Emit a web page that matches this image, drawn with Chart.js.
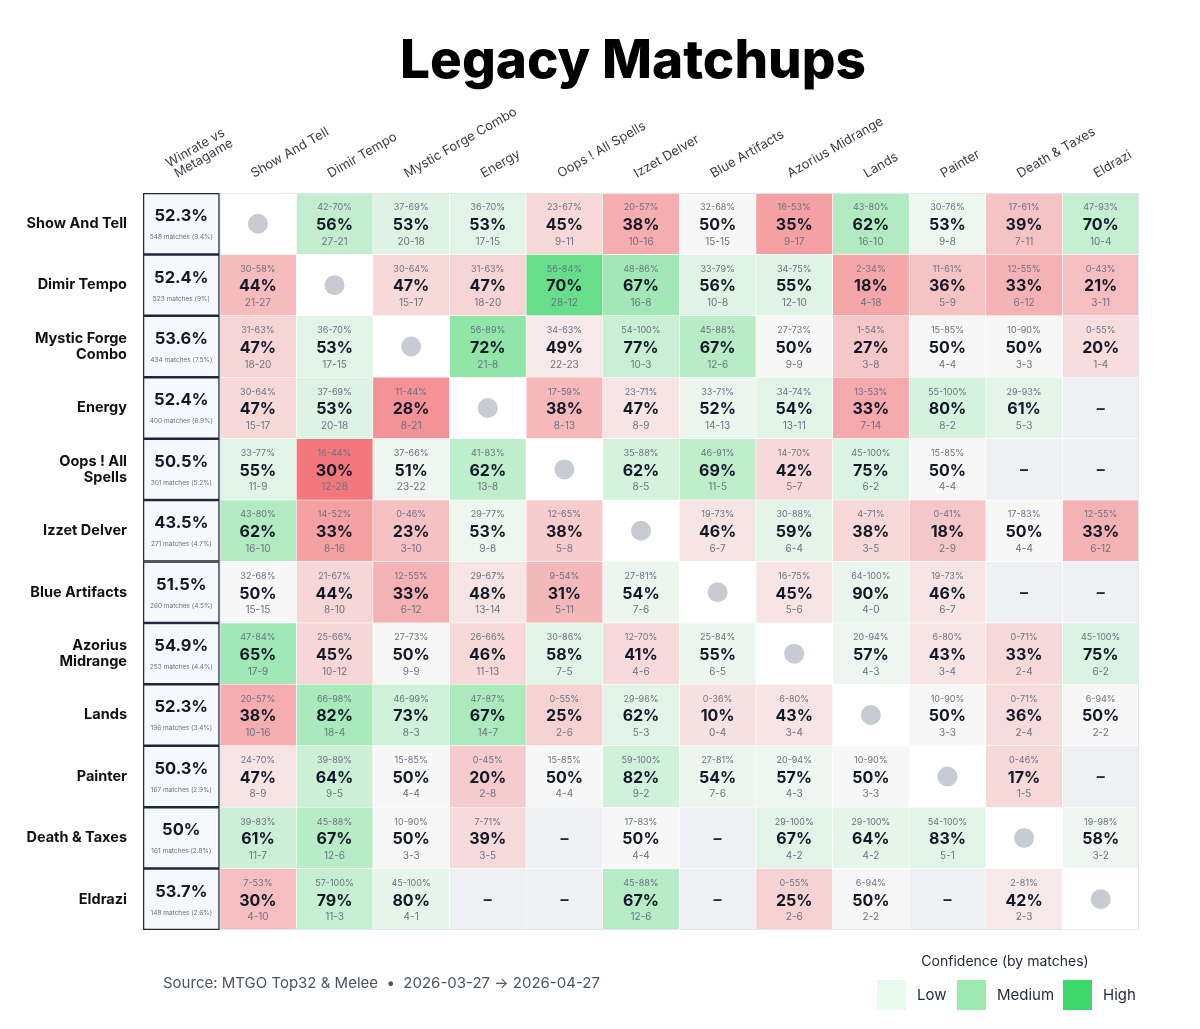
<!DOCTYPE html>
<html>
<head>
<meta charset="utf-8">
<script src="https://cdn.jsdelivr.net/npm/chart.js@4.4.1/dist/chart.umd.min.js"></script>
<style>
  body { margin: 0; background: #ffffff; }
  canvas { display: block; }
</style>
</head>
<body>
<canvas id="myChart" width="1200" height="1029"></canvas>
<script>
// decks, in row / column order
var decks = ["Show And Tell", "Dimir Tempo", "Mystic Forge Combo", "Energy", "Oops ! All Spells", "Izzet Delver",
    "Blue Artifacts", "Azorius Midrange", "Lands", "Painter", "Death & Taxes", "Eldrazi"];
var rowLabels = ["Show And Tell", "Dimir Tempo", ["Mystic Forge", "Combo"], "Energy", ["Oops ! All", "Spells"], "Izzet Delver",
    "Blue Artifacts", ["Azorius", "Midrange"], "Lands", "Painter", "Death & Taxes", "Eldrazi"];

// winrate vs metagame column
var winrates = [52.3, 52.4, 53.6, 52.4, 50.5, 43.5, 51.5, 54.9, 52.3, 50.3, 50, 53.7];
var matches = [548, 523, 434, 400, 301, 271, 260, 253, 196, 167, 161, 148];
var shares = [9.4, 9, 7.5, 6.9, 5.2, 4.7, 4.5, 4.4, 3.4, 2.9, 2.8, 2.6];

// matchup winrate (row deck vs column deck), null = no data / mirror
var matchupPct = [
    [null, 56, 53, 53, 45, 38, 50, 35, 62, 53, 39, 70],
    [44, null, 47, 47, 70, 67, 56, 55, 18, 36, 33, 21],
    [47, 53, null, 72, 49, 77, 67, 50, 27, 50, 50, 20],
    [47, 53, 28, null, 38, 47, 52, 54, 33, 80, 61, null],
    [55, 30, 51, 62, null, 62, 69, 42, 75, 50, null, null],
    [62, 33, 23, 53, 38, null, 46, 59, 38, 18, 50, 33],
    [50, 44, 33, 48, 31, 54, null, 45, 90, 46, null, null],
    [65, 45, 50, 46, 58, 41, 55, null, 57, 43, 33, 75],
    [38, 82, 73, 67, 25, 62, 10, 43, null, 50, 36, 50],
    [47, 64, 50, 20, 50, 82, 54, 57, 50, null, 17, null],
    [61, 67, 50, 39, null, 50, null, 67, 64, 83, null, 58],
    [30, 79, 80, null, null, 67, null, 25, 50, null, 42, null]
];
var ciRanges = [
    ["", "42-70", "37-69", "36-70", "23-67", "20-57", "32-68", "16-53", "43-80", "30-76", "17-61", "47-93"],
    ["30-58", "", "30-64", "31-63", "56-84", "48-86", "33-79", "34-75", "2-34", "11-61", "12-55", "0-43"],
    ["31-63", "36-70", "", "56-89", "34-63", "54-100", "45-88", "27-73", "1-54", "15-85", "10-90", "0-55"],
    ["30-64", "37-69", "11-44", "", "17-59", "23-71", "33-71", "34-74", "13-53", "55-100", "29-93", ""],
    ["33-77", "16-44", "37-66", "41-83", "", "35-88", "46-91", "14-70", "45-100", "15-85", "", ""],
    ["43-80", "14-52", "0-46", "29-77", "12-65", "", "19-73", "30-88", "4-71", "0-41", "17-83", "12-55"],
    ["32-68", "21-67", "12-55", "29-67", "9-54", "27-81", "", "16-75", "64-100", "19-73", "", ""],
    ["47-84", "25-66", "27-73", "26-66", "30-86", "12-70", "25-84", "", "20-94", "6-80", "0-71", "45-100"],
    ["20-57", "66-98", "46-99", "47-87", "0-55", "29-96", "0-36", "6-80", "", "10-90", "0-71", "6-94"],
    ["24-70", "39-89", "15-85", "0-45", "15-85", "59-100", "27-81", "20-94", "10-90", "", "0-46", ""],
    ["39-83", "45-88", "10-90", "7-71", "", "17-83", "", "29-100", "29-100", "54-100", "", "19-98"],
    ["7-53", "57-100", "45-100", "", "", "45-88", "", "0-55", "6-94", "", "2-81", ""]
];
var records = [
    ["", "27-21", "20-18", "17-15", "9-11", "10-16", "15-15", "9-17", "16-10", "9-8", "7-11", "10-4"],
    ["21-27", "", "15-17", "18-20", "28-12", "16-8", "10-8", "12-10", "4-18", "5-9", "6-12", "3-11"],
    ["18-20", "17-15", "", "21-8", "22-23", "10-3", "12-6", "9-9", "3-8", "4-4", "3-3", "1-4"],
    ["15-17", "20-18", "8-21", "", "8-13", "8-9", "14-13", "13-11", "7-14", "8-2", "5-3", ""],
    ["11-9", "12-28", "23-22", "13-8", "", "8-5", "11-5", "5-7", "6-2", "4-4", "", ""],
    ["16-10", "8-16", "3-10", "9-8", "5-8", "", "6-7", "6-4", "3-5", "2-9", "4-4", "6-12"],
    ["15-15", "8-10", "6-12", "13-14", "5-11", "7-6", "", "5-6", "4-0", "6-7", "", ""],
    ["17-9", "10-12", "9-9", "11-13", "7-5", "4-6", "6-5", "", "4-3", "3-4", "2-4", "6-2"],
    ["10-16", "18-4", "8-3", "14-7", "2-6", "5-3", "0-4", "3-4", "", "3-3", "2-4", "2-2"],
    ["8-9", "9-5", "4-4", "2-8", "4-4", "9-2", "7-6", "4-3", "3-3", "", "1-5", ""],
    ["11-7", "12-6", "3-3", "3-5", "", "4-4", "", "4-2", "4-2", "5-1", "", "3-2"],
    ["4-10", "11-3", "4-1", "", "", "12-6", "", "2-6", "2-2", "", "2-3", ""]
];

var legendLabels = ["Low", "Medium", "High"];
var legendColors = ["#e8faed", "#9de9b2", "#3fd86c"];

var FONT = "Inter, 'Noto Sans', sans-serif";

function gamesOf(rec) {
    var p = rec.split('-');
    return (+p[0]) + (+p[1]);
}

// cell colour from winrate + sample size
function cellColor(p, n) {
    var neutral = [248, 248, 248];
    var d = p - 50;
    if (d === 0) return 'rgb(247,247,247)';
    var t = Math.min(1, Math.abs(d) / 16) * Math.min(1, n / 40);
    var target = d > 0 ? [104, 222, 138] : [243, 120, 125];
    if (d < 0) t = Math.pow(t, 0.75);
    var c = neutral.map(function (v, i) { return Math.round(v + (target[i] - v) * t); });
    return 'rgb(' + c.join(',') + ')';
}

function colBg(c) {
    return decks.map(function (d, r) {
        if (c === 0) return '#f5f8fc';
        var j = c - 1;
        if (r === j) return '#ffffff';
        var p = matchupPct[r][j];
        if (p === null) return '#eef0f3';
        return cellColor(p, gamesOf(records[r][j]));
    });
}

var datasets = [];
for (var c = 0; c < 13; c++) {
    datasets.push({
        data: decks.map(function () { return [c, c + 1]; }),
        backgroundColor: colBg(c),
        borderColor: c === 0 ? '#1e293b' : '#ffffff',
        borderWidth: c === 0 ? 1.6 : 0.6,
        borderSkipped: false,
        grouped: false,
        barPercentage: 1,
        categoryPercentage: 1
    });
}

var cellText = {
    id: 'cellText',
    afterDatasetsDraw: function (chart) {
        var ctx = chart.ctx;
        var xs = chart.scales.x;
        var area = chart.chartArea;
        ctx.save();
        // faint frame round the matchup grid
        ctx.strokeStyle = '#e3e6eb';
        ctx.lineWidth = 1;
        var gx = xs.getPixelForValue(1);
        ctx.strokeRect(gx + 0.5, area.top + 0.5, area.right - gx - 1, area.bottom - area.top - 1);

        ctx.textAlign = 'center';
        ctx.textBaseline = 'middle';
        chart.data.datasets.forEach(function (ds, c) {
            chart.getDatasetMeta(c).data.forEach(function (bar, r) {
                var cx = (bar.x + bar.base) / 2;
                var cy = bar.y;
                if (c === 0) {
                    ctx.fillStyle = '#111827';
                    ctx.font = '700 16.5px ' + FONT;
                    ctx.fillText(winrates[r] + '%', cx, cy - 7.5);
                    ctx.fillStyle = '#6b7280';
                    ctx.font = '400 6.5px ' + FONT;
                    ctx.fillText(matches[r] + ' matches (' + shares[r] + '%)', cx, cy + 13.5);
                    return;
                }
                var j = c - 1;
                if (r === j) {
                    ctx.fillStyle = '#c7cbd3';
                    ctx.beginPath();
                    ctx.arc(cx, cy, 10, 0, Math.PI * 2);
                    ctx.fill();
                    return;
                }
                var p = matchupPct[r][j];
                if (p === null) {
                    ctx.fillStyle = '#1f2937';
                    ctx.font = '700 16px ' + FONT;
                    ctx.fillText('\u2013', cx, cy + 1);
                    return;
                }
                ctx.fillStyle = '#6b7280';
                ctx.font = '400 9px ' + FONT;
                ctx.fillText(ciRanges[r][j] + '%', cx, cy - 16);
                ctx.fillStyle = '#111827';
                ctx.font = '700 16px ' + FONT;
                ctx.fillText(p + '%', cx, cy + 1.5);
                ctx.fillStyle = '#6b7280';
                ctx.font = '400 10px ' + FONT;
                ctx.fillText(records[r][j], cx, cy + 18);
            });
        });
        ctx.restore();
    },
    afterDraw: function (chart) {
        var ctx = chart.ctx;
        var xs = chart.scales.x;
        ctx.save();
        // title
        ctx.fillStyle = '#000000';
        ctx.font = '800 53px ' + FONT;
        ctx.textAlign = 'center';
        ctx.textBaseline = 'alphabetic';
        ctx.fillText('Legacy Matchups', 633, 78);

        // rotated column headers
        ctx.fillStyle = '#3a3f47';
        ctx.font = '400 13px ' + FONT;
        for (var c = 0; c < 13; c++) {
            var cx = xs.getPixelForValue(c + 0.5);
            ctx.save();
            ctx.translate(cx - 4, 178);
            ctx.rotate(-30 * Math.PI / 180);
            if (c === 0) {
                var w = ctx.measureText('Winrate vs').width;
                ctx.textAlign = 'center';
                ctx.fillText('Metagame', w / 2, 0);
                ctx.fillText('Winrate vs', w / 2 - 2, -13);
            } else {
                ctx.textAlign = 'left';
                ctx.fillText(decks[c - 1], 0, 0);
            }
            ctx.restore();
        }

        // source line
        ctx.textAlign = 'left';
        ctx.textBaseline = 'middle';
        ctx.fillStyle = '#4b5563';
        ctx.font = '400 15px ' + FONT;
        ctx.fillText('Source: MTGO Top32 & Melee  \u2022  2026-03-27 \u2192 2026-04-27', 163, 983);

        // confidence legend
        ctx.fillStyle = '#1f2937';
        ctx.font = '400 14px ' + FONT;
        ctx.textAlign = 'center';
        ctx.fillText('Confidence (by matches)', 1005, 962);
        var sx = [877, 957, 1063];
        ctx.textAlign = 'left';
        ctx.font = '400 15px ' + FONT;
        legendLabels.forEach(function (lab, i) {
            ctx.fillStyle = legendColors[i];
            ctx.fillRect(sx[i], 980, 29, 30);
            ctx.fillStyle = '#1f2937';
            ctx.fillText(lab, sx[i] + 40, 995);
        });
        ctx.restore();
    }
};

var ctx = document.getElementById("myChart").getContext('2d');
var myChart = new Chart(ctx, {
    type: 'bar',
    data: {
        labels: rowLabels,
        datasets: datasets
    },
    options: {
        indexAxis: 'y',
        responsive: false,
        animation: false,
        layout: { padding: { top: 193, right: 61, bottom: 99, left: 0 } },
        plugins: {
            legend: { display: false },
            tooltip: { enabled: false },
            title: { display: false }
        },
        scales: {
            x: { type: 'linear', min: 0, max: 13, display: false },
            y: {
                type: 'category',
                grid: { display: false, drawTicks: false },
                border: { display: false },
                ticks: {
                    color: '#111111',
                    padding: 16,
                    font: { family: FONT, size: 14.5, weight: '700', lineHeight: 1.1 }
                },
                afterFit: function (scale) { scale.width = 143; }
            }
        }
    },
    plugins: [cellText]
});
</script>
</body>
</html>
